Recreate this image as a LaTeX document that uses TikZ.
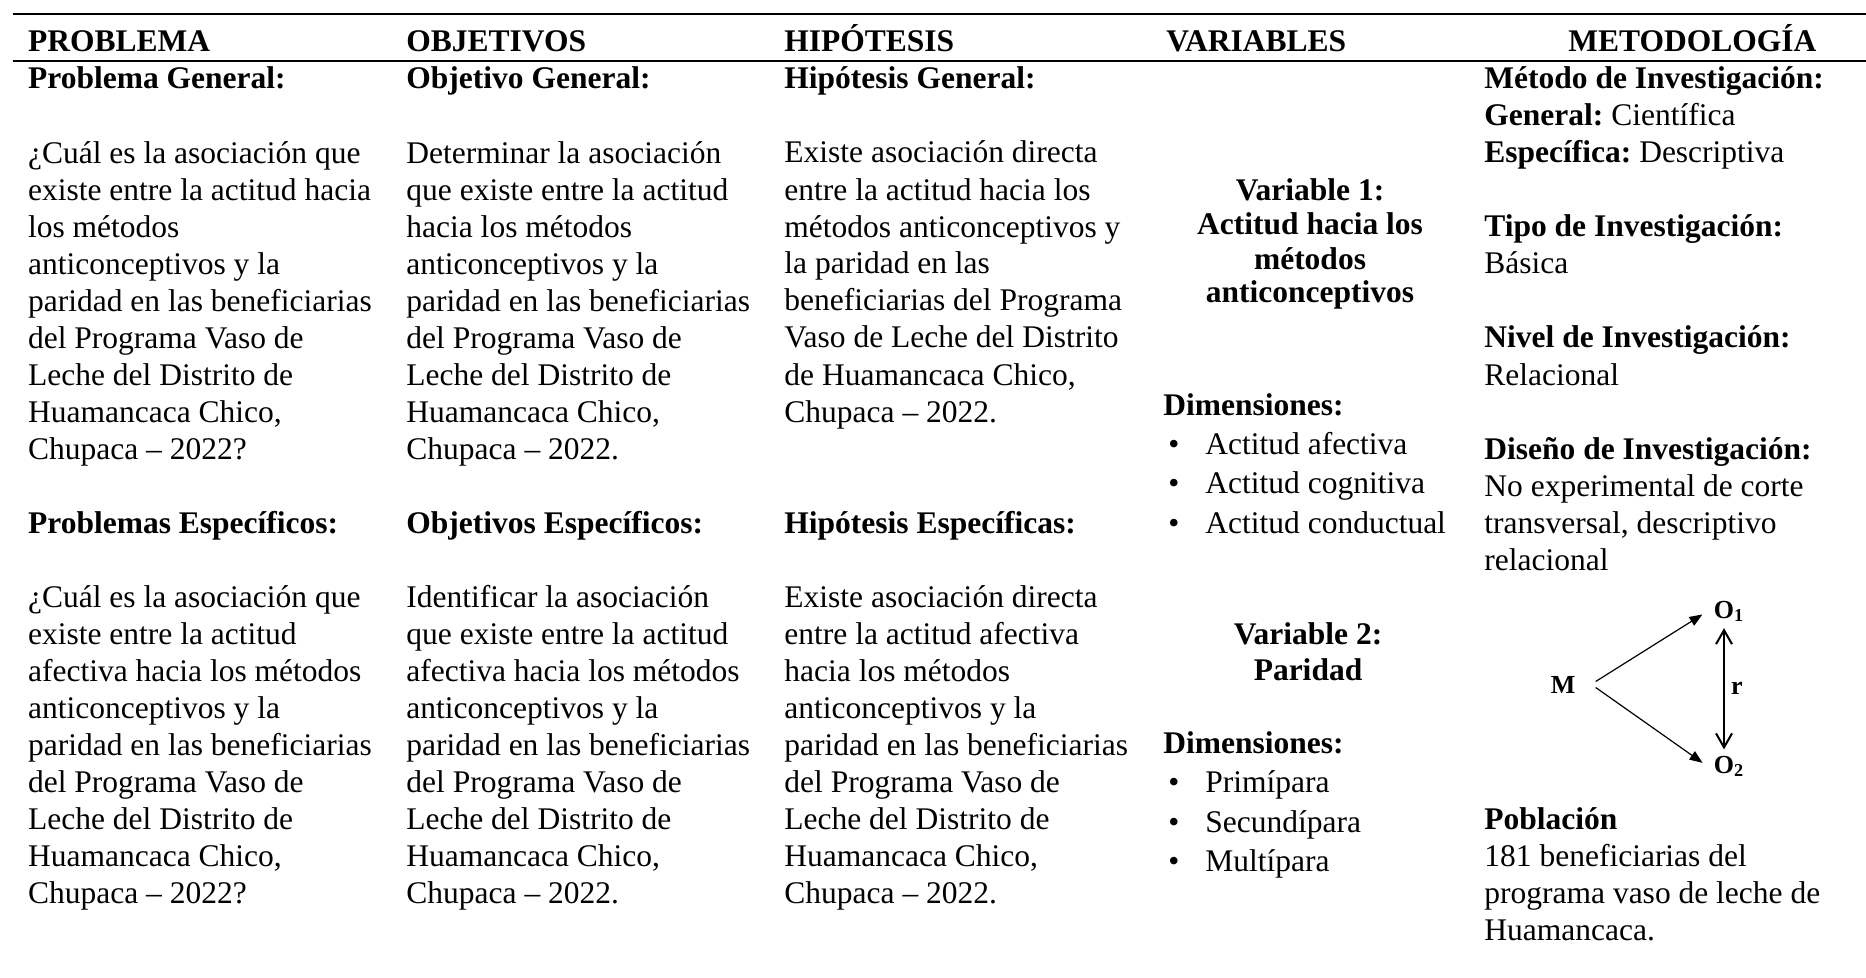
\documentclass[tikz,border=0pt]{standalone}
\usepackage{fontspec}
\setmainfont{Liberation Serif}
\frenchspacing
\usetikzlibrary{arrows.meta,positioning}
\newcommand\tabfont{\fontsize{15.75}{18.5}\selectfont}
\newcommand\varfont{\fontsize{15.75}{17}\selectfont}
\newcommand\lstfont{\fontsize{15.75}{19.65}\selectfont}
\newcommand\itm[1]{\hspace{2.5pt}\makebox[18.5pt][l]{\textbullet}#1}
\tikzset{
    x=0.5pt, y=-0.5pt, inner sep=0pt,
    hdr/.style = {anchor=base west, font=\tabfont\bfseries},
    txt/.style = {anchor=base west, align=left, font=\tabfont},
    var/.style = {anchor=base, align=center, font=\varfont\bfseries},
    lst/.style = {anchor=base west, align=left, font=\lstfont},
    obs/.style = {anchor=base, inner sep=3pt, font=\fontsize{13}{15}\selectfont\bfseries},
    tri/.style = {-{Triangle[length=6.5pt,width=5pt]}, line width=0.6pt, shorten >=3pt},
    rel/.style = {{Straight Barb[length=7pt,width=8pt]}-{Straight Barb[length=7pt,width=8pt]}, line width=1pt}
}

\begin{document}
\begin{tikzpicture}
  \useasboundingbox (0,0) rectangle (1866,978);
  \draw[line width=1pt] (12.7,14) -- (1866,14);
  \draw[line width=1pt] (12.7,60.7) -- (1866,60.7);

  % cabecera
  \node[hdr] (hProb) at (27.7,51.7) {PROBLEMA};
  \node[hdr] (hObj) at (406,51.7) {OBJETIVOS};
  \node[hdr] (hHip) at (784,51.7) {HIPÓTESIS};
  \node[hdr] (hVar) at (1166,51.7) {VARIABLES};
  \node[hdr] (hMet) at (1568,51.7) {METODOLOGÍA};

  % problema (y = base de la ultima linea)
  \node[hdr] (probGen) at (27.7,89) {Problema General:};
  \node[txt] (probGenTxt) at (27.7,459) {¿Cuál es la asociación que\\existe entre la actitud hacia\\los métodos\\anticonceptivos y la\\paridad en las beneficiarias\\del Programa Vaso de\\Leche del Distrito de\\Huamancaca Chico,\\Chupaca -- 2022?};
  \node[hdr] (probEsp) at (27.7,533) {Problemas Específicos:};
  \node[txt] (probEspTxt) at (27.7,903) {¿Cuál es la asociación que\\existe entre la actitud\\afectiva hacia los métodos\\anticonceptivos y la\\paridad en las beneficiarias\\del Programa Vaso de\\Leche del Distrito de\\Huamancaca Chico,\\Chupaca -- 2022?};

  % objetivos
  \node[hdr] (objGen) at (406,89) {Objetivo General:};
  \node[txt] (objGenTxt) at (406,459) {Determinar la asociación\\que existe entre la actitud\\hacia los métodos\\anticonceptivos y la\\paridad en las beneficiarias\\del Programa Vaso de\\Leche del Distrito de\\Huamancaca Chico,\\Chupaca -- 2022.};
  \node[hdr] (objEsp) at (406,533) {Objetivos Específicos:};
  \node[txt] (objEspTxt) at (406,903) {Identificar la asociación\\que existe entre la actitud\\afectiva hacia los métodos\\anticonceptivos y la\\paridad en las beneficiarias\\del Programa Vaso de\\Leche del Distrito de\\Huamancaca Chico,\\Chupaca -- 2022.};

  % hipotesis
  \node[hdr] (hipGen) at (784,89) {Hipótesis General:};
  \node[txt] (hipGenTxt) at (784,422) {Existe asociación directa\\entre la actitud hacia los\\métodos anticonceptivos y\\la paridad en las\\beneficiarias del Programa\\Vaso de Leche del Distrito\\de Huamancaca Chico,\\Chupaca -- 2022.};
  \node[hdr] (hipEsp) at (784,533) {Hipótesis Específicas:};
  \node[txt] (hipEspTxt) at (784,903) {Existe asociación directa\\entre la actitud afectiva\\hacia los métodos\\anticonceptivos y la\\paridad en las beneficiarias\\del Programa Vaso de\\Leche del Distrito de\\Huamancaca Chico,\\Chupaca -- 2022.};

  % variables
  \node[var] (var1) at (1310,303) {Variable 1:\\Actitud hacia los\\métodos\\anticonceptivos};
  \node[lst] (dim1) at (1163,533) {\textbf{Dimensiones:}\\\itm{Actitud afectiva}\\\itm{Actitud cognitiva}\\\itm{Actitud conductual}};
  \node[var, font=\fontsize{15.75}{18}\selectfont\bfseries] (var2) at (1308,680) {Variable 2:\\Paridad};
  \node[lst] (dim2) at (1163,871.3) {\textbf{Dimensiones:}\\\itm{Primípara}\\\itm{Secundípara}\\\itm{Multípara}};

  % metodologia
  \node[txt] (metodo) at (1484,163) {\textbf{Método de Investigación:}\\\textbf{General:} Científica\\\textbf{Específica:} Descriptiva};
  \node[txt] (tipo) at (1484,274) {\textbf{Tipo de Investigación:}\\Básica};
  \node[txt] (nivel) at (1484,385) {\textbf{Nivel de Investigación:}\\Relacional};
  \node[txt] (diseno) at (1484,570) {\textbf{Diseño de Investigación:}\\No experimental de corte\\transversal, descriptivo\\relacional};
  \node[txt] (poblacion) at (1484,940) {\textbf{Población}\\181 beneficiarias del\\programa vaso de leche de\\Huamancaca.};

  % esquema del diseño
  \node[obs, inner xsep=10pt] (M) at (1563,693) {M};
  \node[obs] (O1) at (1724,618) {O\rlap{\textsubscript{1}}};
  \node[obs] (O2) at (1724,773) {O\rlap{\textsubscript{2}}};

  \path[tri] ([yshift=1.5pt]M.east) edge (O1.west);
  \path[tri] ([yshift=-1.5pt]M.east) edge (O2.west);
  \path[rel] (O1) edge node[obs, right] {r} (O2);
\end{tikzpicture}
\end{document}
